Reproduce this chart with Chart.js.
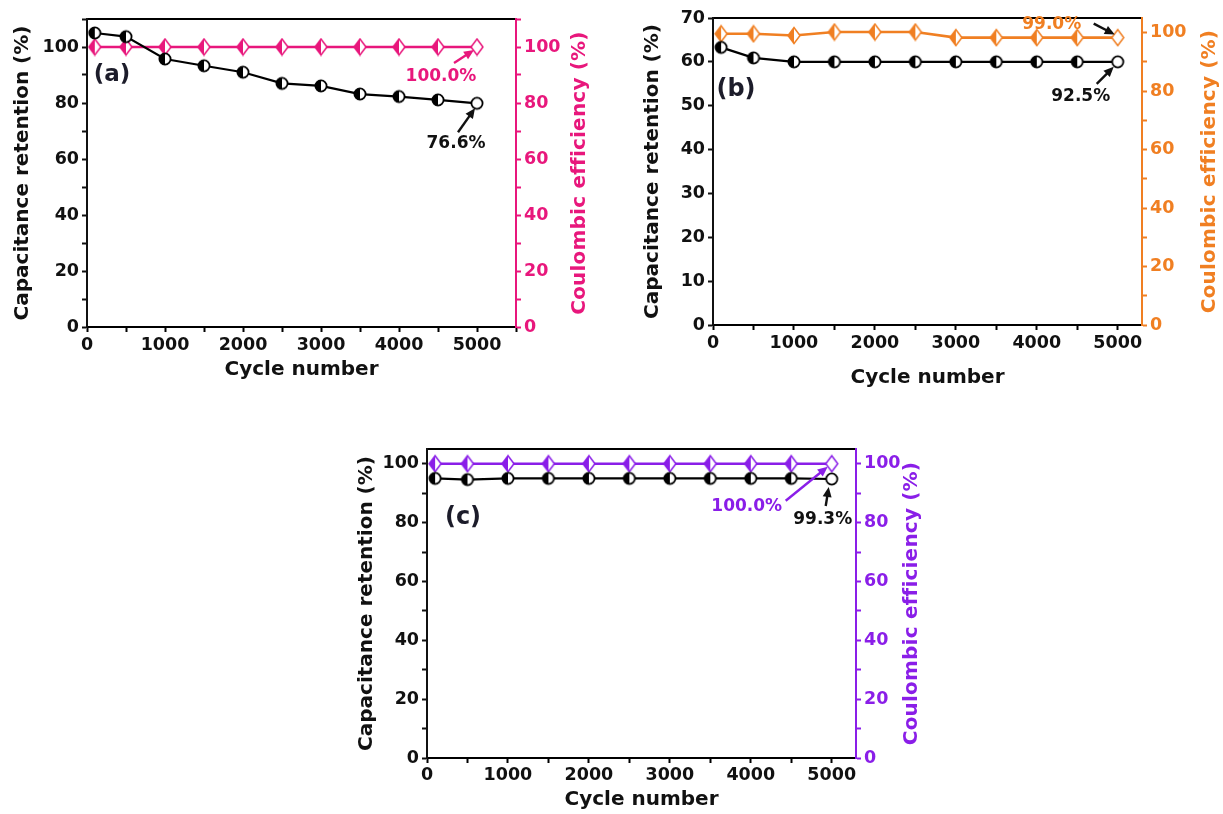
<!DOCTYPE html>
<html>
<head>
<meta charset="utf-8">
<script src="https://cdn.jsdelivr.net/npm/chart.js@4.4.1/dist/chart.umd.min.js"></script>
<style>
  body { margin: 0; background: #fff; width: 1223px; height: 814px; overflow: hidden; }
  canvas { position: absolute; }
</style>
</head>
<body>
<canvas id="chartA" width="600" height="392" style="left:0;top:0"></canvas>
<canvas id="chartB" width="603" height="400" style="left:620px;top:0"></canvas>
<canvas id="chartC" width="600" height="384" style="left:340px;top:430px"></canvas>
<script>
// cycle numbers shared by all three panels
const cycles = [100, 500, 1000, 1500, 2000, 2500, 3000, 3500, 4000, 4500, 5000];

// panel (a)
const capA = [105.0, 103.7, 95.7, 93.3, 91.0, 87.0, 86.1, 83.2, 82.3, 81.1, 79.9];
const ceA = [100, 100, 100, 100, 100, 100, 100, 100, 100, 100, 100];
// panel (b)
const capB = [63.3, 60.9, 60.0, 60.0, 60.0, 60.0, 60.0, 60.0, 60.0, 60.0, 60.0];
const ceB = [99.6, 99.6, 99.0, 100.2, 100.2, 100.2, 98.3, 98.3, 98.3, 98.3, 98.3];
// panel (c)
const capC = [95.0, 94.6, 95.0, 95.0, 95.0, 95.0, 95.0, 95.0, 95.0, 95.0, 94.8];
const ceC = [100, 100, 100, 100, 100, 100, 100, 100, 100, 100, 100];

const PINK = '#e8177c';
const ORANGE = '#f07f22';
const PURPLE = '#8a1ee8';

Chart.defaults.font.family = 'DejaVu Sans';
Chart.defaults.font.weight = 'bold';
Chart.defaults.color = '#111';

// half filled markers
function circleMark(open) {
  const c = document.createElement('canvas');
  c.width = 16; c.height = 16;
  const g = c.getContext('2d');
  g.fillStyle = '#fff';
  g.beginPath(); g.arc(8, 8, 5.6, 0, Math.PI * 2); g.fill();
  if (!open) {
    g.fillStyle = '#000';
    g.beginPath(); g.arc(8, 8, 5.6, Math.PI / 2, Math.PI * 1.5); g.closePath(); g.fill();
  }
  g.lineWidth = 1.8; g.strokeStyle = '#000';
  g.beginPath(); g.arc(8, 8, 5.6, 0, Math.PI * 2); g.stroke();
  return c;
}
function diamondMark(color, open) {
  const c = document.createElement('canvas');
  c.width = 16; c.height = 19;
  const g = c.getContext('2d');
  const path = () => { g.beginPath(); g.moveTo(8, 1.5); g.lineTo(14, 9.5); g.lineTo(8, 17.5); g.lineTo(2, 9.5); g.closePath(); };
  g.fillStyle = '#fff'; path(); g.fill();
  if (!open) {
    g.fillStyle = color;
    g.beginPath(); g.moveTo(8, 1.5); g.lineTo(8, 17.5); g.lineTo(2, 9.5); g.closePath(); g.fill();
  }
  g.lineWidth = 1.5; g.strokeStyle = color; path(); g.stroke();
  return c;
}

function arrow(ctx, x0, y0, x1, y1, color) {
  const a = Math.atan2(y1 - y0, x1 - x0);
  const cs = Math.cos(a), sn = Math.sin(a);
  ctx.save();
  ctx.strokeStyle = color; ctx.fillStyle = color; ctx.lineWidth = 2.4;
  ctx.beginPath(); ctx.moveTo(x0, y0); ctx.lineTo(x1 - 6 * cs, y1 - 6 * sn); ctx.stroke();
  ctx.beginPath(); ctx.moveTo(x1, y1);
  ctx.lineTo(x1 - 10 * cs + 4.5 * sn, y1 - 10 * sn - 4.5 * cs);
  ctx.lineTo(x1 - 10 * cs - 4.5 * sn, y1 - 10 * sn + 4.5 * cs);
  ctx.closePath(); ctx.fill();
  ctx.restore();
}

// panel label, right-axis title and value callouts, placed from the plotted point pixels
const notesPlugin = {
  id: 'notes',
  afterDatasetsDraw(chart, args, opts) {
    const { ctx, chartArea } = chart;
    ctx.save();
    ctx.font = 'bold ' + opts.labelSize + 'px DejaVu Sans';
    ctx.fillStyle = '#1c1c2a';
    ctx.textAlign = 'center'; ctx.textBaseline = 'middle';
    ctx.fillText(opts.label, chartArea.left + opts.labelDx, chartArea.top + opts.labelDy);
    opts.items.forEach(it => {
      const meta = chart.getDatasetMeta(it.ds);
      const p = meta.data[meta.data.length - 1];
      arrow(ctx, p.x + it.a0[0], p.y + it.a0[1], p.x + it.a1[0], p.y + it.a1[1], it.arrowColor);
      ctx.font = 'bold 17px DejaVu Sans';
      ctx.fillStyle = it.color;
      ctx.fillText(it.text, p.x + it.t[0], p.y + it.t[1]);
    });
    // right axis title, reading bottom to top like the left one
    const s = chart.scales.y2;
    ctx.translate(s.right - opts.rightOffset, (chartArea.top + chartArea.bottom) / 2);
    ctx.rotate(-Math.PI / 2);
    ctx.font = 'bold 20px DejaVu Sans';
    ctx.letterSpacing = '0.2px';
    ctx.fillStyle = opts.rightColor;
    ctx.fillText('Coulombic efficiency (%)', 0, 0);
    ctx.restore();
  }
};

function fixedTicks(step) {
  return s => {
    const t = [];
    for (let v = 0; v <= s.max + 1e-9; v += step) t.push({ value: v });
    s.ticks = t;
  };
}

function yAxis(pos, color, max, step, every, title, width, titlePad) {
  return {
    type: 'linear', position: pos, min: 0, max: max,
    afterBuildTicks: fixedTicks(step),
    afterFit: s => { s.width = width; },
    border: { display: true, color: color, width: 2 },
    grid: { display: true, drawOnChartArea: false, drawTicks: true, tickLength: 5, tickWidth: 2, color: color },
    ticks: {
      stepSize: step, padding: 3, color: color, font: { size: 17.5, weight: 'bold' },
      callback: v => (Math.round(v) % every === 0 ? v : '')
    },
    title: { display: title !== '', text: title, color: color, font: { size: 20, weight: 'bold' }, padding: { top: titlePad, bottom: 0 } }
  };
}

function makePanel(id, cfg) {
  const n = cycles.length;
  const capPts = cycles.map((c, i) => ({ x: c, y: cfg.cap[i] }));
  const cePts = cycles.map((c, i) => ({ x: c, y: cfg.ce[i] }));
  const circ = circleMark(false), circOpen = circleMark(true);
  const dia = diamondMark(cfg.color, false), diaOpen = diamondMark(cfg.color, true);
  cfg.notes.rightColor = cfg.color;
  return new Chart(document.getElementById(id), {
    type: 'line',
    data: {
      datasets: [
        {
          data: capPts, yAxisID: 'y', borderColor: '#000', borderWidth: 2.2, tension: 0, clip: false,
          pointStyle: c => (c.dataIndex === n - 1 ? circOpen : circ), pointRadius: 6
        },
        {
          data: cePts, yAxisID: 'y2', borderColor: cfg.color, borderWidth: 2.6, tension: 0, clip: false,
          pointStyle: c => (c.dataIndex === n - 1 ? diaOpen : dia), pointRadius: 6
        }
      ]
    },
    options: {
      responsive: false, animation: false, devicePixelRatio: 1,
      layout: { padding: { top: cfg.top, left: 0, right: 0, bottom: 0 } },
      plugins: { legend: { display: false }, tooltip: { enabled: false }, notes: cfg.notes },
      scales: {
        x: {
          type: 'linear', position: 'bottom', min: 0, max: cfg.xMax,
          afterBuildTicks: fixedTicks(500),
          afterFit: s => { s.height = cfg.bottomH; },
          border: { display: true, color: '#000', width: 2 },
          grid: { display: true, drawOnChartArea: false, tickLength: 5, tickWidth: 2, color: '#000' },
          ticks: {
            stepSize: 500, padding: cfg.xPad, color: '#111', maxRotation: 0, autoSkip: false,
            font: { size: 17.5, weight: 'bold' },
            callback: v => (v % 1000 === 0 ? v : '')
          },
          title: { display: true, text: 'Cycle number', color: '#111', font: { size: 20, weight: 'bold' }, padding: { top: 0, bottom: cfg.xTitlePad } }
        },
        xTop: {
          type: 'linear', position: 'top', min: 0, max: cfg.xMax,
          afterFit: s => { s.height = 0; },
          border: { display: true, color: '#000', width: 2 },
          grid: { display: false },
          ticks: { display: false }
        },
        y: yAxis('left', '#111', cfg.yMax, cfg.yStep, cfg.yEvery, 'Capacitance retention (%)', cfg.leftW, cfg.leftPad),
        y2: yAxis('right', cfg.color, cfg.y2Max, 10, 20, '', cfg.rightW, 0)
      }
    },
    plugins: [notesPlugin]
  });
}

makePanel('chartA', {
  cap: capA, ce: ceA, color: PINK, xMax: 5500,
  yMax: 110, yStep: 10, yEvery: 20, y2Max: 110,
  top: 19, bottomH: 65, xPad: 3, xTitlePad: 10,
  leftW: 87, leftPad: 11, rightW: 84,
  notes: {
    label: '(a)', labelSize: 23, labelDx: 25, labelDy: 56, rightOffset: 20,
    items: [
      { ds: 1, text: '100.0%', color: PINK, arrowColor: PINK, t: [-36, 30], a0: [-23, 16], a1: [-3, 3] },
      { ds: 0, text: '76.6%', color: '#111', arrowColor: '#111', t: [-21, 40], a0: [-19, 29], a1: [-2, 5] }
    ]
  }
});

makePanel('chartB', {
  cap: capB, ce: ceB, color: ORANGE, xMax: 5300,
  yMax: 70, yStep: 5, yEvery: 10, y2Max: 105,
  top: 18, bottomH: 75, xPad: 3, xTitlePad: 10,
  leftW: 93, leftPad: 21, rightW: 81,
  notes: {
    label: '(b)', labelSize: 24, labelDx: 23, labelDy: 72, rightOffset: 13,
    items: [
      { ds: 1, text: '99.0%', color: ORANGE, arrowColor: '#111', t: [-66, -13], a0: [-24, -14], a1: [-3, -3] },
      { ds: 0, text: '92.5%', color: '#111', arrowColor: '#111', t: [-37, 35], a0: [-21, 22], a1: [-4, 5] }
    ]
  }
});

makePanel('chartC', {
  cap: capC, ce: ceC, color: PURPLE, xMax: 5300,
  yMax: 105, yStep: 10, yEvery: 20, y2Max: 105,
  top: 19, bottomH: 56, xPad: 2, xTitlePad: 2,
  leftW: 87, leftPad: 15, rightW: 84,
  notes: {
    label: '(c)', labelSize: 24, labelDx: 36, labelDy: 69, rightOffset: 28,
    items: [
      { ds: 1, text: '100.0%', color: PURPLE, arrowColor: PURPLE, t: [-85, 43], a0: [-46, 37], a1: [-4, 3] },
      { ds: 0, text: '99.3%', color: '#111', arrowColor: '#111', t: [-9, 41], a0: [-6, 27], a1: [-3, 8] }
    ]
  }
});
</script>
</body>
</html>
